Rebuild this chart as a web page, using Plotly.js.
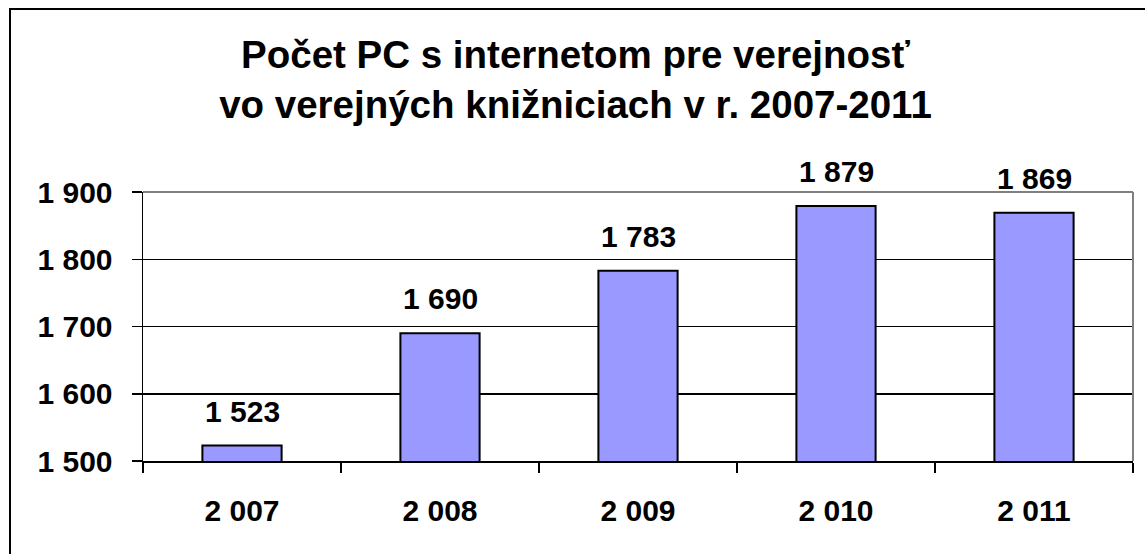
<!DOCTYPE html>
<html>
<head>
<meta charset="utf-8">
<script src="https://cdn.plot.ly/plotly-3.0.1.min.js"></script>
<style>
  html, body { margin: 0; padding: 0; background: #fff; overflow: hidden; }
  #wrap { position: relative; width: 1145px; height: 554px; overflow: hidden; }
  #chart { width: 1145px; height: 554px; }
  #frame { position: absolute; left: 9px; top: 8px; width: 1300px; height: 700px;
           border-left: 2px solid #000; border-top: 2px solid #000; pointer-events: none; }
</style>
</head>
<body>
<div id="wrap">
<div id="chart"></div>
<div id="frame"></div>
</div>
<script>
const years = ["2 007", "2 008", "2 009", "2 010", "2 011"];
const pcCounts = [1523, 1690, 1783, 1879, 1869];
const yTickVals = [1500, 1600, 1700, 1800, 1900];
const titleText = "Počet PC s internetom pre verejnosť<br>vo verejných knižniciach v r. 2007-2011";

function fmt(n) {
  return String(n).replace(/\B(?=(\d{3})+(?!\d))/g, " ");
}

const W = 1145, H = 554;
const mL = 143, mR = 12, mT = 192, mB = 93;
const font = "Liberation Sans, Arial, sans-serif";

const trace = {
  type: "bar",
  x: years,
  y: pcCounts,
  width: 0.4,
  marker: { color: "#9999FF", line: { color: "#000", width: 2 } },
  hoverinfo: "skip"
};

const annotations = years.map((c, i) => ({
  x: c, y: pcCounts[i], xref: "x", yref: "y",
  text: "<b>" + fmt(pcCounts[i]) + "</b>",
  showarrow: false, yanchor: "bottom", yshift: 16,
  font: { family: font, size: 30, color: "#000" }
}));

const layout = {
  width: W, height: H,
  margin: { l: mL, r: mR, t: mT, b: mB },
  paper_bgcolor: "#fff",
  plot_bgcolor: "#fff",
  showlegend: false,
  title: {
    text: "<b>" + titleText + "</b>",
    font: { family: font, size: 38.5, color: "#000" },
    x: 0.5026, xanchor: "center", xref: "container",
    y: 1 - 68 / H, yanchor: "top", yref: "container"
  },
  xaxis: {
    type: "category",
    tickson: "boundaries",
    ticks: "outside", ticklen: 10, tickwidth: 1.5, tickcolor: "#000",
    showline: true, linecolor: "#000", linewidth: 1.5,
    showgrid: false,
    tickfont: { family: font, size: 30, color: "#000", weight: "bold" },
    ticklabelstandoff: 22,
    fixedrange: true
  },
  yaxis: {
    range: [1500, 1900],
    tickvals: yTickVals,
    ticktext: yTickVals.map(fmt),
    ticks: "outside", ticklen: 10, tickwidth: 1.5, tickcolor: "#000",
    showline: true, linecolor: "#000", linewidth: 1.5,
    showgrid: true, gridcolor: "#000", gridwidth: 1.5,
    zeroline: false,
    tickfont: { family: font, size: 30, color: "#000", weight: "bold" },
    ticklabelstandoff: 13,
    fixedrange: true
  },
  annotations: annotations,
  shapes: [
    { type: "line", xref: "paper", yref: "paper", x0: 0, x1: 1, y0: 1, y1: 1,
      line: { color: "#808080", width: 2 }, layer: "above" },
    { type: "line", xref: "paper", yref: "paper", x0: 1, x1: 1, y0: 0, y1: 1,
      line: { color: "#808080", width: 2 }, layer: "above" }
  ]
};

Plotly.newPlot("chart", [trace], layout, { displayModeBar: false, staticPlot: true });
</script>
</body>
</html>
